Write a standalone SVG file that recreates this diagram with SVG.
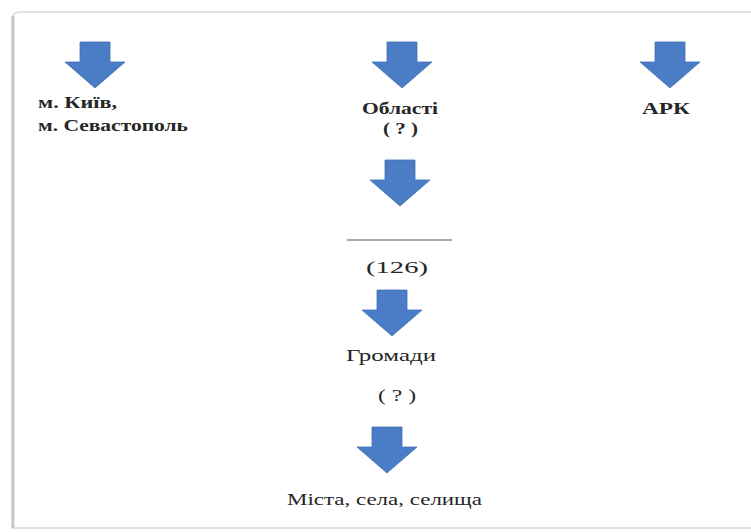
<svg xmlns="http://www.w3.org/2000/svg" width="751" height="532" viewBox="0 0 751 532">
<style>
.t{font-family:"Liberation Serif","Times New Roman",serif;font-size:17px;fill:#262626}
.b{font-weight:bold}
.arr{fill:#4a7dc6;stroke:#3f6fb5;stroke-width:0.8}
</style>
<defs>
<path id="a" d="M-15,0 H15 V20 H30 L0,46 L-30,20 H-15 Z"/>
</defs>
<rect x="0" y="0" width="751" height="532" fill="#ffffff"/>
<path d="M 760,12 H 20 Q 12,12 12,20 V 528 H 760" fill="none" stroke="#e2e2e2" stroke-width="2"/>
<line x1="13" y1="16" x2="13" y2="528" stroke="#c8c8c8" stroke-width="3"/>
<g id="connectors">
<use href="#a" class="arr" x="95" y="42"/>
<use href="#a" class="arr" x="402" y="42"/>
<use href="#a" class="arr" x="670" y="42"/>
<use href="#a" class="arr" x="400" y="160"/>
<use href="#a" class="arr" x="392" y="290"/>
<use href="#a" class="arr" x="387" y="427"/>
<line x1="347" y1="240" x2="452" y2="240" stroke="#a9a9a9" stroke-width="2"/>
</g>
<g id="kyiv">
<text class="t b" x="38" y="108" textLength="79" lengthAdjust="spacingAndGlyphs">м. Київ,</text>
<text class="t b" x="38" y="131" textLength="150" lengthAdjust="spacingAndGlyphs">м. Севастополь</text>
</g>
<g id="oblasti">
<text class="t b" x="362" y="114" textLength="76" lengthAdjust="spacingAndGlyphs">Області</text>
<text class="t b" x="383" y="134" textLength="35" lengthAdjust="spacingAndGlyphs">( ? )</text>
</g>
<g id="ark">
<text class="t b" x="642" y="114" textLength="48" lengthAdjust="spacingAndGlyphs">АРК</text>
</g>
<g id="n126">
<text class="t" x="366" y="273" textLength="62" lengthAdjust="spacingAndGlyphs">(126)</text>
</g>
<g id="hromady">
<text class="t" x="346" y="361" textLength="90" lengthAdjust="spacingAndGlyphs">Громади</text>
<text class="t" x="378" y="401" textLength="38" lengthAdjust="spacingAndGlyphs">( ? )</text>
</g>
<g id="mista">
<text class="t" x="287" y="505" textLength="195" lengthAdjust="spacingAndGlyphs">Міста, села, селища</text>
</g>
</svg>
